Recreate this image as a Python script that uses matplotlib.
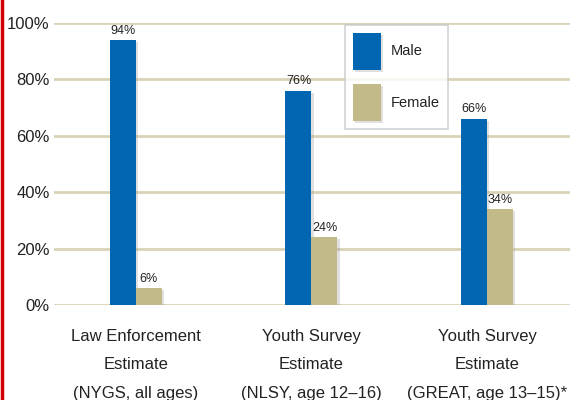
import matplotlib
matplotlib.use("Agg")
import matplotlib.pyplot as plt
import matplotlib.patheffects as pe
from matplotlib.lines import Line2D
from matplotlib.patches import Patch
import numpy as np

plt.rcParams['font.family'] = ['Liberation Sans', 'DejaVu Sans']

categories = ["Law Enforcement\nEstimate\n(NYGS, all ages)",
              "Youth Survey\nEstimate\n(NLSY, age 12\u201316)",
              "Youth Survey\nEstimate\n(GREAT, age 13\u201315)*"]
male = [94, 76, 66]
female = [6, 24, 34]
yticks = [0, 20, 40, 60, 80, 100]
ytick_labels = ["0%", "20%", "40%", "60%", "80%", "100%"]

blue = "#0066b2"
tan = "#c2bb89"
grid_col = "#d8d3b6"
text_col = "#222222"

fig = plt.figure(figsize=(5.7, 4.0), dpi=100)
ax = fig.add_axes([54 / 570, 1 - 305 / 400, 1 - 54 / 570, (305 - 23) / 400])

x = np.arange(len(categories))
w = 0.148
shadow = [pe.SimplePatchShadow(offset=(1.5, -1.5), shadow_rgbFace="#999999", alpha=0.3), pe.Normal()]

bm = ax.bar(x - w / 2, male, w, color=blue, zorder=3, path_effects=shadow)
bf = ax.bar(x + w / 2, female, w, color=tan, zorder=3, path_effects=shadow)

for rects, vals in ((bm, male), (bf, female)):
    for r, v in zip(rects, vals):
        ax.text(r.get_x() + r.get_width() / 2, v + 1.2, f"{v}%", ha="center", va="bottom",
                fontsize=9, color=text_col, zorder=4)

for t in yticks:
    ax.axhline(t, color=grid_col, lw=2, zorder=1)

ax.set_xlim(-0.467, 2.473)
ax.set_ylim(0, 100)
ax.set_yticks(yticks)
ax.set_yticklabels(ytick_labels, fontsize=12, color=text_col)
ax.set_xticks(x)
ax.set_xticklabels(categories, fontsize=12, color=text_col, linespacing=2.15)
ax.tick_params(length=0, pad=3)
ax.tick_params(axis='x', pad=17)
for s in ax.spines.values():
    s.set_visible(False)

handles = [Patch(facecolor=blue, path_effects=shadow), Patch(facecolor=tan, path_effects=shadow)]
leg = ax.legend(handles, ["Male", "Female"], loc="upper left",
                bbox_to_anchor=((345 - 54) / (570 - 54), 1 + (23 - 25) / 282),
                fontsize=10.5, frameon=True, fancybox=False, edgecolor="#c8c8c8",
                handlelength=1.9, handleheight=3.5, labelspacing=1.0,
                borderpad=0.55, handletextpad=0.7, borderaxespad=0)
leg.get_frame().set_linewidth(1.2)
for t in leg.get_texts():
    t.set_color(text_col)

fig.add_artist(Line2D([1.5 / 570, 1.5 / 570], [0, 1], transform=fig.transFigure,
                      color="#d40000", lw=2.5))

fig.savefig("out.png", dpi=100)
